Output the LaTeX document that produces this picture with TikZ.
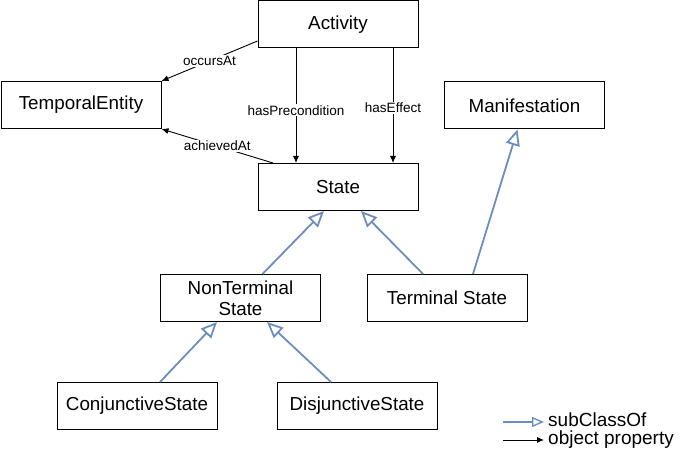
\documentclass[tikz,border=0pt]{standalone}
\usepackage{fontspec}
\setmainfont{Liberation Sans}
\usepackage{xcolor}
\usetikzlibrary{arrows.meta,positioning}
\definecolor{subblue}{RGB}{108,142,191}
\tikzstyle{class box}=[
        draw = black,
        line width = 1pt,
        fill = white,
        minimum width = 160pt,
        minimum height = 47pt,
        align = center,
        font = \fontsize{18.8pt}{21pt}\selectfont
    ]
\tikzstyle{sub class}=[
    draw = subblue,
    line width = 1.8pt,
    -{Triangle[open, length=16pt, width=14pt]}
]
\tikzstyle{obj prop}=[
    draw = black,
    line width = 0.9pt,
    -{Latex[length=7pt, width=6pt]}
]
\tikzstyle{prop label}=[
    fill = white,
    inner sep = 1pt,
    font = \fontsize{13.5pt}{15pt}\selectfont
]
\tikzstyle{legend text}=[
    anchor = west,
    inner sep = 0pt,
    text height = 13pt,
    text depth = 4pt,
    font = \fontsize{19pt}{20pt}\selectfont
]
\begin{document}
\begin{tikzpicture}[x=1pt, y=1pt]
        \useasboundingbox (0,0) rectangle (685,-457);
        \node[class box] (activity) at (338,-24.5) {Activity};
        \node[class box] (temporal) [node distance = 80.5pt, below of = activity, xshift = -257pt] {TemporalEntity};
        \node[class box] (manifestation) [node distance = 81pt, below of = activity, xshift = 186.5pt] {Manifestation};
        \node[class box] (state) [node distance = 162.5pt, below of = activity] {State};
        \node[class box] (nonterminal) [node distance = 111pt, below of = state, xshift = -97.5pt] {NonTerminal\\State};
        \node[class box] (terminal) [node distance = 111pt, below of = state, xshift = 109pt] {Terminal State};
        \node[class box] (conjunctive) [node distance = 108pt, below of = nonterminal, xshift = -103.5pt] {ConjunctiveState};
        \node[class box] (disjunctive) [node distance = 108pt, below of = nonterminal, xshift = 116.5pt] {DisjunctiveState};

        \draw[obj prop] ([yshift = -16.5pt]activity.west) -- (temporal.north east) node [prop label, midway] {occursAt};
        \draw[obj prop] ([xshift = -65pt]state.north) -- (temporal.south east) node [prop label, midway] {achievedAt};
        \draw[obj prop] ([xshift = -42pt]activity.south) -- ([xshift = -42pt]state.north) node [prop label, pos = 0.54] {hasPrecondition};
        \draw[obj prop] ([xshift = 55pt]activity.south) -- ([xshift = 55pt]state.north) node [prop label, pos = 0.52] {hasEffect};

        \draw[sub class] ([xshift = 22pt]nonterminal.north) -- ([xshift = -14pt]state.south);
        \draw[sub class] ([xshift = -24pt]terminal.north) -- ([xshift = 23pt]state.south);
        \draw[sub class] ([xshift = 26pt]terminal.north) -- ([xshift = -7pt]manifestation.south);
        \draw[sub class] ([xshift = 23pt]conjunctive.north) -- ([xshift = -23.5pt]nonterminal.south);
        \draw[sub class] ([xshift = -26pt]disjunctive.north) -- ([xshift = 26.5pt]nonterminal.south);

        \node[legend text] (subtext) at (548,-422) {subClassOf};
        \node[legend text] (proptext) at (548,-440) {object property};
        \coordinate (substart) at (503,-422);
        \coordinate (propstart) at (503,-440);
        \draw[sub class, line width = 1.4pt, -{Triangle[open, length=12pt, width=10pt]}] (substart) -- ([xshift = -4pt]subtext.west);
        \draw[obj prop] (propstart) -- ([xshift = -4pt]proptext.west);

    \end{tikzpicture}
\end{document}
